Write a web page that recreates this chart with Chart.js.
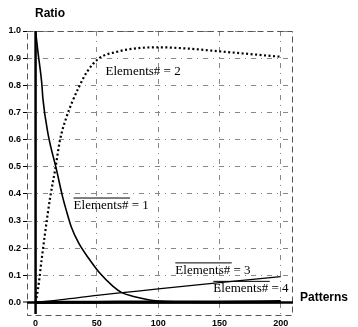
<!DOCTYPE html>
<html><head><meta charset="utf-8">
<script src="https://cdn.jsdelivr.net/npm/chart.js@4"></script>
<style>html,body{margin:0;padding:0;background:#fff}</style>
</head><body>
<canvas id="c" width="358" height="327" style="width:358px;height:327px;display:block"></canvas>
<script>
// ---- data ----
const s1x = [0, 2, 5, 6, 10, 17, 22, 25, 29, 35, 44, 52, 63, 70, 80, 90, 100, 125, 150, 200];
const s1y = [1.0, 0.92, 0.81, 0.75, 0.625, 0.49, 0.39, 0.34, 0.28, 0.22, 0.158, 0.11, 0.06, 0.037, 0.022, 0.012, 0.005, 0.001, 0, 0];
const s2x = [0, 2, 5, 10, 12, 16, 20, 25, 30, 35, 42, 52, 66, 80, 100, 125, 150, 175, 200];
const s2y = [0, 0.05, 0.16, 0.33, 0.39, 0.49, 0.6, 0.68, 0.74, 0.79, 0.85, 0.9, 0.923, 0.935, 0.94, 0.935, 0.925, 0.915, 0.905];
const s3x = [0, 10, 25, 50, 75, 100, 150, 200];
const s3y = [0, 0.005, 0.012, 0.026, 0.038, 0.05, 0.073, 0.095];
const s4x = [0, 50, 100, 150, 200];
const s4y = [0, 0.001, 0.002, 0.002, 0.003];
const seriesNames = ['Elements# = 1', 'Elements# = 2', 'Elements# = 3', 'Elements# = 4'];
const labelAtX = [31, 57, 114, 145];
const labelAtY = [0.357, 0.85, 0.118, 0.05];
const labelOverline = [true, false, true, true];
const xTicks = [0, 50, 100, 150, 200];
const yTicks = [0, 0.1, 0.2, 0.3, 0.4, 0.5, 0.6, 0.7, 0.8, 0.9, 1.0];
const xTitle = 'Patterns';
const yTitle = 'Ratio';

const pts = (xs, ys) => xs.map((x, i) => ({x, y: ys[i]}));

const frameAndAxes = {
  id: 'frameAndAxes',
  beforeDatasetsDraw(chart) {
    const {ctx, chartArea: a, scales: {x, y}} = chart;
    ctx.save();
    ctx.strokeStyle = '#555';
    ctx.lineWidth = 1;
    ctx.setLineDash([6, 4]);
    ctx.strokeRect(a.left + 0.5, a.top + 0.5, a.right - a.left - 1, a.bottom - a.top - 1);
    ctx.setLineDash([]);
    ctx.strokeStyle = '#000';
    ctx.lineWidth = 2.5;
    const x0 = x.getPixelForValue(0), y0 = y.getPixelForValue(0);
    ctx.beginPath();
    ctx.moveTo(x0, a.top); ctx.lineTo(x0, a.bottom - 2);
    ctx.moveTo(a.left, y0); ctx.lineTo(a.right, y0);
    ctx.stroke();
    ctx.restore();
  },
  afterDatasetsDraw(chart) {
    const {ctx, scales: {x, y}} = chart;
    ctx.save();
    ctx.fillStyle = '#000';
    ctx.font = '13px "Liberation Serif", "DejaVu Serif", serif';
    ctx.textBaseline = 'middle';
    ctx.textAlign = 'left';
    seriesNames.forEach((t, i) => {
      const px = x.getPixelForValue(labelAtX[i]);
      const py = y.getPixelForValue(labelAtY[i]);
      const w = ctx.measureText(t).width;
      ctx.fillText(t, px, py);
      if (labelOverline[i]) {
        ctx.strokeStyle = '#000';
        ctx.lineWidth = 1;
        ctx.beginPath();
        ctx.moveTo(px, py - 7.5); ctx.lineTo(px + w * 0.75, py - 7.5);
        ctx.stroke();
      }
    });
    ctx.font = 'bold 12px "Liberation Sans", Arial, sans-serif';
    ctx.fillText(yTitle, 35, 14);
    ctx.fillText(xTitle, 300, 298);
    ctx.restore();
  }
};

const gridCommon = {
  color: '#888',
  lineWidth: (c) => (c.tick && c.tick.value === 0) ? 0 : 1,
  tickColor: '#000',
  tickWidth: 1
};

new Chart(document.getElementById('c'), {
  type: 'line',
  data: {
    datasets: [
      {data: pts(s1x, s1y), borderColor: '#000', borderWidth: 1.6, pointRadius: 0, cubicInterpolationMode: 'monotone', fill: false},
      {data: pts(s2x, s2y), borderColor: '#000', borderWidth: 2.2, borderDash: [2, 2.5], borderCapStyle: 'butt', pointRadius: 0, cubicInterpolationMode: 'monotone', fill: false},
      {data: pts(s3x, s3y), borderColor: '#000', borderWidth: 1.3, pointRadius: 0, cubicInterpolationMode: 'monotone', fill: false},
      {data: pts(s4x, s4y), borderColor: '#000', borderWidth: 3, pointRadius: 0, cubicInterpolationMode: 'monotone', fill: false}
    ]
  },
  options: {
    responsive: false,
    devicePixelRatio: 1,
    animation: false,
    layout: {padding: {top: 31, right: 65, left: 0, bottom: 0}},
    plugins: {legend: {display: false}, tooltip: {enabled: false}, title: {display: false}},
    scales: {
      x: {
        type: 'linear', min: -7, max: 210,
        afterBuildTicks: (s) => { s.ticks = xTicks.map(v => ({value: v})); },
        afterFit: (s) => { s.height = 11; },
        grid: Object.assign({}, gridCommon, {drawTicks: false}),
        border: {display: false, dash: [5, 5, 1, 5]},
        ticks: {padding: 2, color: '#000', font: {family: '"Liberation Sans", Arial, sans-serif', size: 9, weight: 'bold'}, maxRotation: 0, autoSkip: false,
          callback: (v) => String(v)}
      },
      y: {
        type: 'linear', min: -0.05, max: 1.0,
        afterBuildTicks: (s) => { s.ticks = yTicks.map(v => ({value: v})); },
        afterFit: (s) => { s.width = 27; },
        grid: Object.assign({}, gridCommon, {drawTicks: true, tickLength: 4}),
        border: {display: false, dash: [5, 5, 1, 5]},
        ticks: {padding: 2, color: '#000', font: {family: '"Liberation Sans", Arial, sans-serif', size: 9, weight: 'bold'}, autoSkip: false,
          callback: (v) => Number(v).toFixed(1)}
      }
    }
  },
  plugins: [frameAndAxes]
});
</script>
</body></html>
